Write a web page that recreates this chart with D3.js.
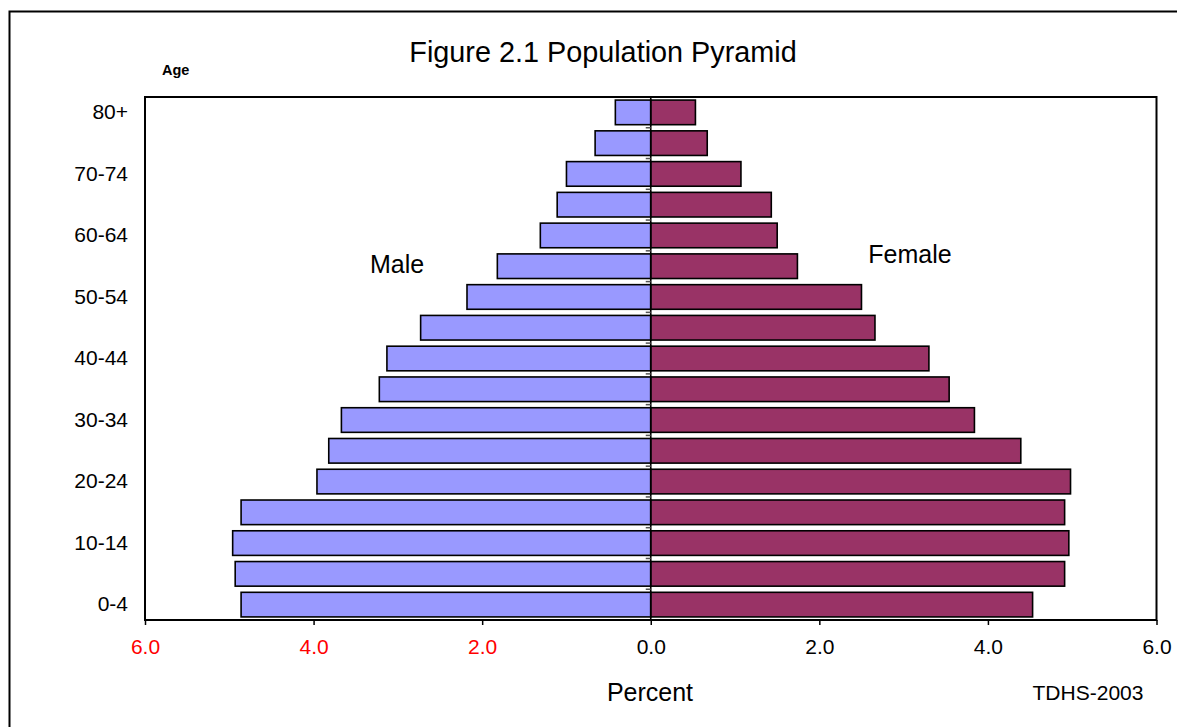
<!DOCTYPE html>
<html>
<head>
<meta charset="utf-8">
<script src="https://cdn.jsdelivr.net/npm/d3@7"></script>
<style>
  body { margin: 0; background: #fff; }
  svg { display: block; font-family: "Liberation Sans", Arial, sans-serif; }
</style>
</head>
<body>
<svg width="1177" height="727"></svg>
<script>
// age groups, youngest first
var ageGroups = ["0-4","5-9","10-14","15-19","20-24","25-29","30-34","35-39","40-44",
                 "45-49","50-54","55-59","60-64","65-69","70-74","75-79","80+"]
// percent of population
var maleValues   = [4.86, 4.93, 4.96, 4.86, 3.96, 3.82, 3.67, 3.22, 3.13, 2.73, 2.18, 1.82, 1.31, 1.11, 1.00, 0.66, 0.42]
var femaleValues = [4.53, 4.91, 4.96, 4.91, 4.98, 4.39, 3.84, 3.54, 3.30, 2.66, 2.50, 1.74, 1.50, 1.43, 1.07, 0.67, 0.53]
var xTicks = [-6, -4, -2, 0, 2, 4, 6]

var plot = {left: 145, right: 1156.5, top: 97, bottom: 620}

var svg = d3.select("svg")

// outer chart frame (runs off the right and bottom of the picture)
svg.append("rect")
    .attr("x", 9.5).attr("y", 11.5)
    .attr("width", 1190).attr("height", 740)
    .attr("fill", "none").attr("stroke", "#000").attr("stroke-width", 2)

var xScale = d3.scaleLinear()
    .domain([-6, 6])
    .range([plot.left, plot.right])

var yScale = d3.scaleBand()
    .domain(ageGroups.slice().reverse())
    .range([plot.top, plot.bottom])
    .paddingInner(0.2)
    .paddingOuter(0.1)

var rows = ageGroups.map(function(a, i) {
    return {age: a, male: maleValues[i], female: femaleValues[i]}
})

// bars
var bars = svg.append("g").attr("stroke", "#000").attr("stroke-width", 1.6)

bars.selectAll(".male")
    .data(rows)
    .enter()
    .append("rect")
    .attr("class", "male")
    .attr("x", function(d){ return xScale(-d.male) })
    .attr("y", function(d){ return yScale(d.age) })
    .attr("width", function(d){ return xScale(0) - xScale(-d.male) })
    .attr("height", yScale.bandwidth())
    .attr("fill", "#9999FF")

bars.selectAll(".female")
    .data(rows)
    .enter()
    .append("rect")
    .attr("class", "female")
    .attr("x", xScale(0))
    .attr("y", function(d){ return yScale(d.age) })
    .attr("width", function(d){ return xScale(d.female) - xScale(0) })
    .attr("height", yScale.bandwidth())
    .attr("fill", "#993366")

// zero line with category tick marks between bands
svg.append("line")
    .attr("x1", xScale(0)).attr("x2", xScale(0))
    .attr("y1", plot.top).attr("y2", plot.bottom)
    .attr("stroke", "#000").attr("stroke-width", 1.6)

var step = yScale.step()
svg.append("g")
    .selectAll("line")
    .data(d3.range(1, ageGroups.length))
    .enter()
    .append("line")
    .attr("x1", xScale(0) - 5).attr("x2", xScale(0))
    .attr("y1", function(i){ return plot.top + i * step })
    .attr("y2", function(i){ return plot.top + i * step })
    .attr("stroke", "#555").attr("stroke-width", 1.5)

// plot area border
svg.append("rect")
    .attr("x", plot.left).attr("y", plot.top)
    .attr("width", plot.right - plot.left).attr("height", plot.bottom - plot.top)
    .attr("fill", "none").attr("stroke", "#000").attr("stroke-width", 2)

// x axis
var xAxis = d3.axisBottom(xScale)
    .tickValues(xTicks)
    .tickFormat(function(d){ return Math.abs(d).toFixed(1) })
    .tickSize(5)
    .tickPadding(14)

var gx = svg.append("g")
    .attr("transform", "translate(0," + plot.bottom + ")")
    .call(xAxis)
gx.select(".domain").remove()
gx.selectAll("line").attr("stroke", "#000").attr("stroke-width", 1.5)
gx.selectAll("text")
    .attr("font-size", 21)
    .attr("font-family", "Liberation Sans, Arial, sans-serif")
    .attr("fill", function(d){ return d < 0 ? "#FF0000" : "#000" })

// category labels, every other age group
var yAxis = d3.axisLeft(yScale)
    .tickSize(0)
    .tickPadding(17)
    .tickFormat(function(d, i){ return (ageGroups.length - 1 - i) % 2 === 0 ? d : "" })

var gy = svg.append("g")
    .attr("transform", "translate(" + plot.left + ",0)")
    .call(yAxis)
gy.select(".domain").remove()
gy.selectAll("text")
    .attr("font-size", 21)
    .attr("font-family", "Liberation Sans, Arial, sans-serif")
    .attr("fill", "#000")

// texts
svg.append("text")
    .attr("x", 603).attr("y", 62)
    .attr("text-anchor", "middle")
    .attr("font-size", 28.8)
    .text("Figure 2.1 Population Pyramid")

svg.append("text")
    .attr("x", 162).attr("y", 75)
    .attr("font-size", 14.5)
    .attr("font-weight", "bold")
    .text("Age")

svg.append("text")
    .attr("x", 397).attr("y", 273)
    .attr("text-anchor", "middle")
    .attr("font-size", 25)
    .text("Male")

svg.append("text")
    .attr("x", 910).attr("y", 263)
    .attr("text-anchor", "middle")
    .attr("font-size", 25)
    .text("Female")

svg.append("text")
    .attr("x", 650).attr("y", 701)
    .attr("text-anchor", "middle")
    .attr("font-size", 25)
    .text("Percent")

svg.append("text")
    .attr("x", 1088).attr("y", 700)
    .attr("text-anchor", "middle")
    .attr("font-size", 21)
    .text("TDHS-2003")
</script>
</body>
</html>
